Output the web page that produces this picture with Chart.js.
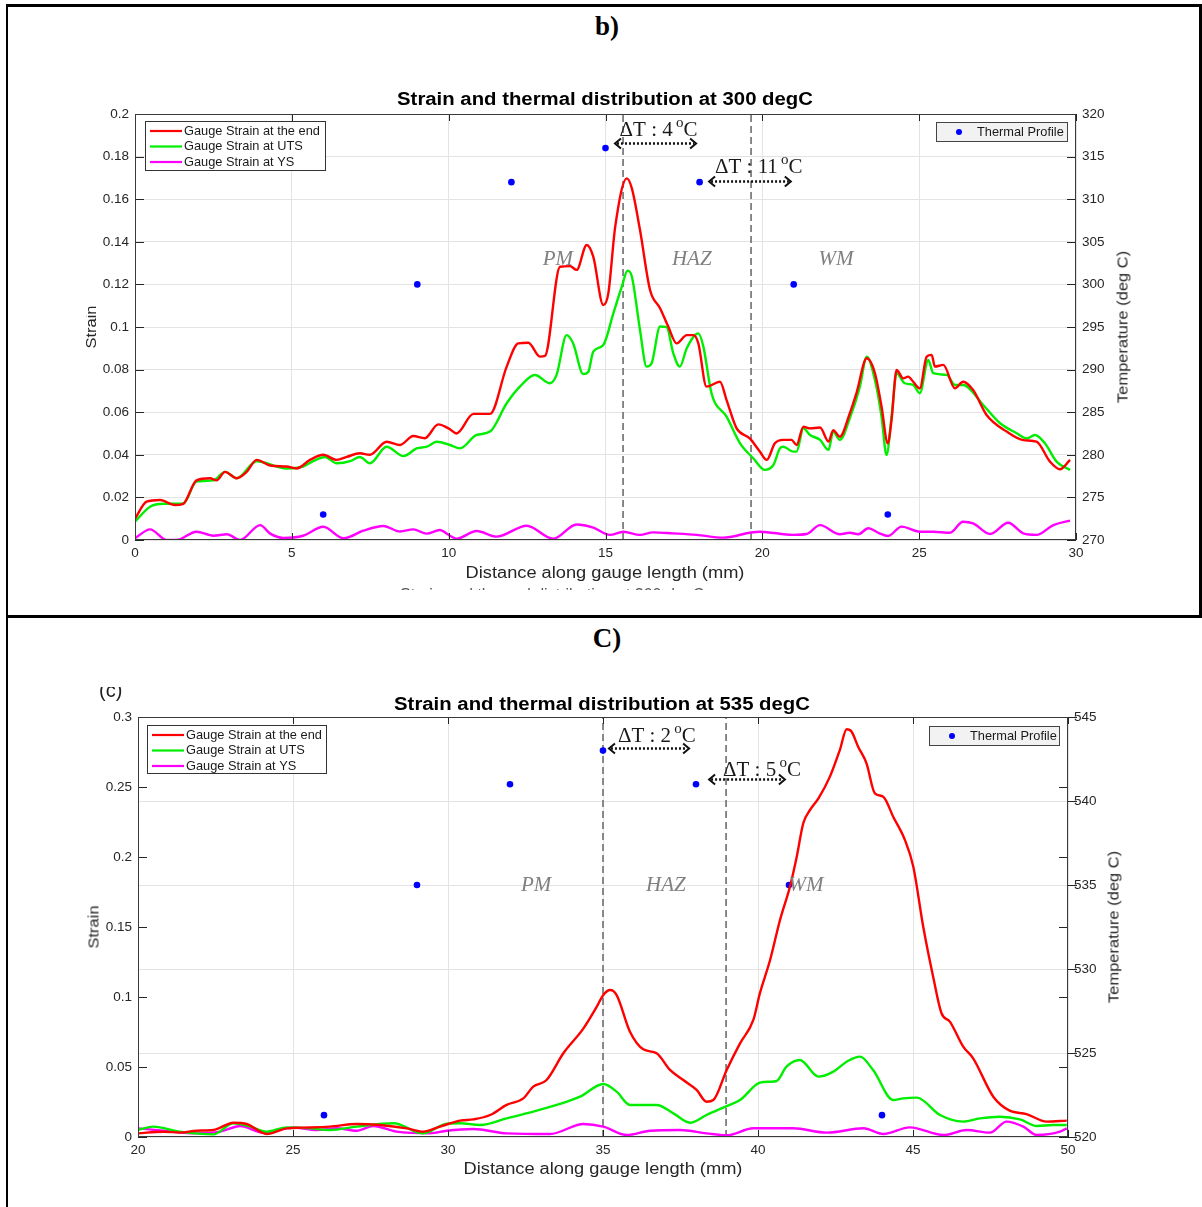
<!DOCTYPE html>
<html>
<head>
<meta charset="utf-8">
<script src="https://cdn.jsdelivr.net/npm/chart.js@4.4.1/dist/chart.umd.min.js"></script>
<style>
  body { margin: 0; background: #fff; }
  #page { position: relative; width: 1202px; height: 1207px; overflow: hidden; font-family: "Liberation Sans", Arial, sans-serif; }
  .rule { position: absolute; background: #000; }
  .panel { position: absolute; left: 0; width: 1202px; }
  .panel canvas { position: absolute; left: 0; top: 0; }
  .txt { position: absolute; white-space: nowrap; line-height: 1; color: #1a1a1a; }
  .ctr { transform: translate(-50%, -50%); }
  .tag { font-family: "Liberation Serif", "Times New Roman", serif; font-weight: bold; font-size: 27px; color: #000; }
  .ttl { font-weight: bold; font-size: 18px; color: #000; transform: translate(-50%, -50%) scaleX(1.13); }
  .axl { font-size: 16px; color: #262626; transform: translate(-50%, -50%) scaleX(1.14); }
  .rot { font-size: 15px; color: #262626; transform: translate(-50%, -50%) rotate(-90deg) scaleX(1.1); }
  .clip { position: absolute; overflow: hidden; }
</style>
</head>
<body>
<div id="page">
  <div class="rule" style="left:6px; top:4px; width:1196px; height:3px"></div>
  <div class="rule" style="left:6px; top:4px; width:2px; height:1203px"></div>
  <div class="rule" style="left:1199px; top:4px; width:3px; height:614px"></div>
  <div class="rule" style="left:6px; top:615px; width:1196px; height:3px"></div>

  <div class="txt tag ctr" style="left:607px; top:26px">b)</div>
  <div class="txt tag ctr" style="left:607px; top:638px">C)</div>

  <div class="panel" style="top:0; height:617px">
    <canvas id="c300" width="1202" height="617"></canvas>
  </div>
  <div class="panel" style="top:617px; height:590px">
    <canvas id="c535" width="1202" height="590"></canvas>
  </div>

  <div class="txt ttl" style="left:605px; top:99px">Strain and thermal distribution at 300 degC</div>
  <div class="clip" style="left:86px; top:290px; width:30px; height:80px">
    <div class="txt rot" style="left:4px; top:37px">Strain</div>
  </div>
  <div class="txt rot" style="left:1122px; top:327px">Temperature (deg C)</div>
  <div class="txt axl" style="left:605px; top:573px">Distance along gauge length (mm)</div>
  <div class="clip" style="left:380px; top:586px; width:460px; height:4px">
    <div class="txt" style="left:20px; top:1px; font-size:16px; color:#555">Strain and thermal distribution at 300 degC</div>
  </div>

  <div class="clip" style="left:96px; top:687px; width:40px; height:14px">
    <div class="txt" style="left:3px; top:-7px; font-size:20px; color:#222">(c)</div>
  </div>
  <div class="txt ttl" style="left:602px; top:704px">Strain and thermal distribution at 535 degC</div>
  <div class="txt rot" style="left:93px; top:927px">Strain</div>
  <div class="txt rot" style="left:1113px; top:927px">Temperature (deg C)</div>
  <div class="txt axl" style="left:603px; top:1169px">Distance along gauge length (mm)</div>
</div>

<script>
// ---- 300 degC : strain along the gauge (distance mm, strain)
const endStrain300 = [[0,0.010],[0.37,0.018],[0.8,0.0188],[1.27,0.0164],[1.54,0.017],[1.96,0.028],[2.39,0.029],[2.6,0.028],[2.87,0.032],[3.24,0.029],[3.56,0.032],[3.88,0.0376],[4.31,0.035],[4.83,0.0345],[5.15,0.0336],[5.58,0.0376],[6.0,0.040],[6.43,0.0376],[6.75,0.039],[7.17,0.0407],[7.49,0.040],[8.02,0.0461],[8.45,0.0446],[8.87,0.0488],[9.24,0.0478],[9.67,0.0543],[10.04,0.052],[10.25,0.050],[10.79,0.0592],[11.32,0.0592],[11.85,0.0814],[12.22,0.0923],[12.54,0.0926],[12.91,0.0861],[13.07,0.0864],[13.55,0.1283],[13.87,0.1286],[14.08,0.1268],[14.4,0.1385],[14.61,0.133],[14.93,0.1103],[15.09,0.1158],[15.31,0.1471],[15.68,0.1698],[15.84,0.1651],[16.1,0.1455],[16.42,0.1174],[16.74,0.1088],[17.0,0.1002],[17.27,0.0923],[17.59,0.0962],[17.8,0.0962],[17.96,0.0923],[18.22,0.072],[18.65,0.0743],[18.86,0.0657],[19.18,0.0524],[19.6,0.0477],[19.92,0.0415],[20.14,0.0376],[20.4,0.0454],[20.67,0.047],[20.93,0.047],[21.09,0.0446],[21.31,0.0532],[21.52,0.0524],[21.84,0.0528],[22.11,0.0462],[22.26,0.0516],[22.47,0.0485],[22.79,0.0595],[23.0,0.0689],[23.33,0.0853],[23.59,0.0783],[23.8,0.0627],[24.0,0.0454],[24.12,0.0564],[24.28,0.0798],[24.49,0.0759],[24.65,0.0767],[24.81,0.0743],[25.02,0.0712],[25.24,0.0861],[25.4,0.0869],[25.5,0.0814],[25.77,0.0822],[26.14,0.0712],[26.4,0.0743],[26.72,0.0704],[27.15,0.0587],[27.79,0.0509],[28.32,0.0469],[28.74,0.0462],[29.17,0.0368],[29.49,0.0332],[29.81,0.0376]];
const utsStrain300 = [[0,0.0086],[0.48,0.0156],[0.9,0.017],[1.54,0.0172],[1.96,0.0274],[2.5,0.028],[2.87,0.032],[3.24,0.029],[3.88,0.037],[4.83,0.0336],[5.36,0.0345],[5.68,0.037],[6.06,0.039],[6.43,0.036],[6.86,0.037],[7.17,0.039],[7.49,0.036],[8.02,0.0438],[8.56,0.0394],[8.98,0.043],[9.3,0.0438],[9.62,0.0461],[10.04,0.0446],[10.36,0.043],[10.89,0.0493],[11.32,0.0509],[11.85,0.0642],[12.27,0.072],[12.75,0.0775],[13.23,0.0736],[13.44,0.0775],[13.76,0.0962],[13.97,0.0923],[14.29,0.0779],[14.45,0.0789],[14.61,0.0884],[14.93,0.0915],[15.25,0.1064],[15.52,0.1189],[15.7,0.1264],[15.84,0.1237],[16.1,0.0986],[16.31,0.0814],[16.47,0.083],[16.74,0.1002],[16.95,0.0999],[17.16,0.0877],[17.37,0.0814],[17.59,0.09],[17.96,0.097],[18.12,0.0908],[18.38,0.0689],[18.86,0.0579],[19.29,0.0454],[19.71,0.0384],[20.08,0.0329],[20.35,0.0352],[20.56,0.043],[20.67,0.0438],[20.98,0.0415],[21.09,0.0415],[21.31,0.0524],[21.52,0.0493],[21.84,0.047],[22.11,0.0423],[22.26,0.0509],[22.47,0.047],[22.79,0.0572],[23.11,0.072],[23.33,0.0861],[23.59,0.0751],[23.8,0.058],[23.96,0.0399],[24.12,0.058],[24.28,0.0783],[24.54,0.0736],[24.81,0.0728],[25.02,0.0689],[25.29,0.0845],[25.45,0.0783],[25.88,0.0775],[26.14,0.0728],[26.4,0.0728],[27.04,0.0634],[27.58,0.0548],[28.11,0.0501],[28.43,0.0477],[28.69,0.0493],[29.01,0.0454],[29.38,0.0368],[29.81,0.0329]];
const ysStrain300 = [[0,0.0008],[0.48,0.005],[1.01,0],[1.33,0],[1.96,0.0039],[2.5,0.002],[2.93,0.0027],[3.35,0],[3.99,0.007],[4.31,0.003],[4.73,0.001],[5.36,0.002],[6.0,0.0062],[6.65,0.0008],[7.28,0.0044],[7.92,0.0066],[8.45,0.004],[8.87,0.005],[9.3,0.003],[9.72,0.0047],[10.04,0.002],[10.25,0.0006],[10.89,0.0042],[11.53,0.0016],[12.49,0.0067],[13.33,0.0006],[14.08,0.0073],[14.61,0.0058],[15.14,0.0024],[15.57,0.0039],[16.1,0.0024],[16.52,0.0036],[17.16,0.0031],[17.9,0.0024],[18.76,0.0011],[19.6,0.0034],[19.92,0.0039],[20.98,0.0024],[21.41,0.0028],[21.84,0.007],[22.47,0.0027],[22.79,0.0034],[23.06,0.0027],[23.38,0.0055],[23.7,0.0034],[24.01,0.0019],[24.44,0.0063],[25.02,0.0039],[25.45,0.0039],[25.98,0.0034],[26.4,0.0086],[26.72,0.0078],[27.26,0.0028],[27.84,0.0081],[28.32,0.0031],[28.74,0.0024],[29.28,0.007],[29.81,0.0091]];
const thermX300 = [6, 9, 12, 15, 18, 21, 24];
const thermT300 = [273, 300, 312, 316, 312, 300, 273];
const zoneLines300 = [15.56, 19.64];

// ---- 535 degC
const endStrain535 = [[20.0,0.0026],[20.82,0.0038],[21.35,0.0031],[21.89,0.0045],[22.43,0.005],[23.08,0.0102],[23.51,0.0093],[24.15,0.0021],[24.8,0.0062],[25.33,0.0067],[26.19,0.0074],[27.05,0.0093],[27.81,0.0086],[28.67,0.0062],[29.2,0.0038],[29.74,0.0074],[30.39,0.0117],[30.82,0.0126],[31.36,0.0157],[31.89,0.0229],[32.43,0.0276],[32.75,0.036],[33.18,0.0407],[33.72,0.0598],[34.37,0.0776],[34.8,0.0931],[35.01,0.1014],[35.23,0.105],[35.44,0.1014],[35.87,0.0752],[36.3,0.0626],[36.73,0.0598],[37.16,0.0479],[37.59,0.0407],[38.02,0.0336],[38.34,0.0252],[38.56,0.0264],[38.99,0.0479],[39.42,0.0669],[39.85,0.0836],[40.06,0.1026],[40.39,0.1264],[40.71,0.155],[41.03,0.1788],[41.25,0.2002],[41.46,0.2241],[41.68,0.2336],[41.95,0.2419],[42.32,0.2574],[42.64,0.2764],[42.86,0.2912],[43.02,0.2895],[43.23,0.2788],[43.5,0.2669],[43.77,0.2455],[44.04,0.2431],[44.36,0.2288],[44.74,0.2121],[45.01,0.1931],[45.33,0.1502],[45.65,0.1145],[45.92,0.0884],[46.19,0.0824],[46.62,0.0645],[46.94,0.0562],[47.59,0.0288],[48.12,0.0188],[48.66,0.0164],[49.31,0.011],[49.96,0.0117]];
const utsStrain535 = [[20.0,0.005],[20.49,0.0074],[21.35,0.0038],[22.43,0.0019],[23.08,0.0098],[23.62,0.0074],[24.15,0.0038],[24.8,0.0069],[25.55,0.0062],[26.19,0.005],[27.05,0.0074],[28.24,0.0098],[29.2,0.0026],[29.96,0.0095],[30.39,0.0098],[31.03,0.0086],[31.89,0.0133],[32.75,0.0181],[33.51,0.0229],[34.26,0.0288],[35.01,0.0379],[35.44,0.0324],[35.87,0.0229],[36.73,0.0229],[37.27,0.0169],[37.81,0.0102],[38.34,0.0157],[38.99,0.0221],[39.42,0.0264],[40.06,0.0388],[40.39,0.0395],[40.6,0.04],[40.92,0.0502],[41.35,0.055],[41.95,0.0431],[42.43,0.0467],[42.86,0.0538],[43.29,0.0574],[43.72,0.0476],[44.36,0.0264],[44.69,0.0276],[45.12,0.0281],[45.87,0.0157],[46.62,0.011],[47.16,0.0133],[47.8,0.0145],[48.45,0.0126],[48.99,0.0079],[49.52,0.0086],[49.96,0.0086]];
const ysStrain535 = [[20.0,0.0062],[20.82,0.0045],[21.89,0.0026],[22.65,0.0038],[23.3,0.0079],[24.04,0.0031],[25.01,0.0067],[25.77,0.005],[26.41,0.0062],[27.05,0.0045],[27.59,0.0079],[28.34,0.0038],[29.42,0.0026],[29.96,0.0045],[30.82,0.0057],[31.89,0.0026],[33.29,0.0021],[34.37,0.0093],[35.01,0.0074],[35.77,0.0014],[36.52,0.0045],[37.48,0.005],[38.34,0.0026],[38.99,0.0012],[39.85,0.0062],[40.71,0.0062],[41.14,0.0062],[42.22,0.0031],[43.4,0.0062],[44.04,0.0021],[44.9,0.0069],[45.98,0.0014],[46.73,0.005],[47.48,0.0031],[48.02,0.011],[48.56,0.0074],[48.99,0.0014],[49.74,0.0038],[49.96,0.0062]];
const thermX535 = [26, 29, 32, 35, 38, 41, 44];
const thermT535 = [521.3, 535, 541, 543, 541, 535, 521.3];
const zoneLines535 = [35, 38.97];

const seriesNames = ['Gauge Strain at the end', 'Gauge Strain at UTS', 'Gauge Strain at YS'];
const seriesColors = ['#ff0000', '#00ee00', '#ff00ff'];
const zoneNames = ['PM', 'HAZ', 'WM'];

const SANS = '"Liberation Sans", Arial, sans-serif';
const SERIF = '"Liberation Serif", "Times New Roman", serif';

function toPts(pairs) { return pairs.map(p => ({ x: p[0], y: p[1] })); }

// inside ticks, box, legends, zone labels and delta-T arrows
const decor = {
  id: 'decor',
  afterDatasetsDraw(chart, args, o) {
    const { ctx, chartArea: a, scales } = chart;
    const sx = scales.x, sy = scales.y, st = scales.y2;
    ctx.save();
    ctx.strokeStyle = '#262626';
    ctx.lineWidth = 1;
    ctx.beginPath();
    sx.ticks.forEach(t => {
      const px = Math.round(sx.getPixelForValue(t.value)) + 0.5;
      ctx.moveTo(px, a.bottom); ctx.lineTo(px, a.bottom - 7);
      ctx.moveTo(px, a.top); ctx.lineTo(px, a.top + 7);
    });
    sy.ticks.forEach(t => {
      const py = Math.round(sy.getPixelForValue(t.value)) + 0.5;
      ctx.moveTo(a.left, py); ctx.lineTo(a.left + 9, py);
      if (o.mirrorLeft) { ctx.moveTo(a.right, py); ctx.lineTo(a.right - 9, py); }
    });
    st.ticks.forEach(t => {
      const py = Math.round(st.getPixelForValue(t.value)) + 0.5;
      if (o.outRight) { ctx.moveTo(a.right, py); ctx.lineTo(a.right + 9, py); }
      else { ctx.moveTo(a.right, py); ctx.lineTo(a.right - 9, py); }
    });
    ctx.stroke();
    ctx.strokeStyle = '#3a3a3a';
    ctx.strokeRect(a.left + 0.5, a.top + 0.5, a.right - a.left - 1, a.bottom - a.top - 1);

    // zone labels
    ctx.fillStyle = '#808080';
    ctx.font = 'italic 21px ' + SERIF;
    ctx.textAlign = 'center';
    ctx.textBaseline = 'middle';
    o.zones.forEach((zx, i) => {
      ctx.fillText(zoneNames[i], sx.getPixelForValue(zx), sy.getPixelForValue(o.zoneY));
    });

    // delta-T notes with dotted double arrows
    ctx.textAlign = 'left';
    ctx.textBaseline = 'alphabetic';
    o.deltas.forEach(d => {
      const tx = sx.getPixelForValue(d.tx), ty = sy.getPixelForValue(d.ty);
      ctx.fillStyle = '#1a1a1a';
      ctx.font = '21px ' + SERIF;
      const s = 'ΔT : ' + d.v + ' ';
      ctx.fillText(s, tx, ty);
      let w = ctx.measureText(s).width - 2;
      ctx.font = '15px ' + SERIF;
      ctx.fillText('o', tx + w, ty - 9);
      w += ctx.measureText('o').width;
      ctx.font = '21px ' + SERIF;
      ctx.fillText('C', tx + w, ty);

      const x1 = sx.getPixelForValue(d.x1), x2 = sx.getPixelForValue(d.x2), y = Math.round(sy.getPixelForValue(d.ay)) + 0.5;
      ctx.strokeStyle = '#111';
      ctx.lineWidth = 2.5;
      ctx.setLineDash([2, 2]);
      ctx.beginPath(); ctx.moveTo(x1 + 3, y); ctx.lineTo(x2 - 3, y); ctx.stroke();
      ctx.setLineDash([]);
      ctx.lineWidth = 2;
      ctx.beginPath();
      ctx.moveTo(x1 + 7, y - 5); ctx.lineTo(x1 + 1, y); ctx.lineTo(x1 + 7, y + 5);
      ctx.moveTo(x2 - 7, y - 5); ctx.lineTo(x2 - 1, y); ctx.lineTo(x2 - 7, y + 5);
      ctx.stroke();
    });

    // strain legend
    const L = o.legL;
    ctx.fillStyle = '#fff';
    ctx.fillRect(a.left + L.dx, a.top + L.dy, L.w, L.h);
    ctx.strokeStyle = '#333';
    ctx.lineWidth = 1;
    ctx.strokeRect(a.left + L.dx + 0.5, a.top + L.dy + 0.5, L.w, L.h);
    ctx.font = '12.8px ' + SANS;
    ctx.textBaseline = 'middle';
    seriesNames.forEach((n, i) => {
      const y = a.top + L.dy + 10 + i * 15.5;
      ctx.strokeStyle = seriesColors[i];
      ctx.lineWidth = 2.2;
      ctx.beginPath(); ctx.moveTo(a.left + L.dx + 5, y); ctx.lineTo(a.left + L.dx + 37, y); ctx.stroke();
      ctx.fillStyle = '#1a1a1a';
      ctx.fillText(n, a.left + L.dx + 39, y);
    });

    // thermal legend
    const R = o.legR;
    const rx = a.right - R.dx;
    ctx.fillStyle = '#f2f2f2';
    ctx.fillRect(rx, a.top + R.dy, R.w, 19);
    ctx.strokeStyle = '#444';
    ctx.lineWidth = 1;
    ctx.strokeRect(rx + 0.5, a.top + R.dy + 0.5, R.w, 19);
    ctx.fillStyle = '#0000ff';
    ctx.beginPath(); ctx.arc(rx + 23, a.top + R.dy + 10, 3, 0, Math.PI * 2); ctx.fill();
    ctx.fillStyle = '#1a1a1a';
    ctx.fillText('Thermal Profile', rx + 41, a.top + R.dy + 10);
    ctx.restore();
  }
};

function makeChart(id, cfg) {
  const lineSet = (pairs, i) => ({
    data: toPts(pairs), yAxisID: 'y', borderColor: seriesColors[i], borderWidth: 2.4,
    pointRadius: 0, cubicInterpolationMode: 'monotone', fill: false
  });
  const datasets = [
    lineSet(cfg.end, 0), lineSet(cfg.uts, 1), lineSet(cfg.ys, 2),
    {
      data: cfg.thermX.map((x, i) => ({ x: x, y: cfg.thermT[i] })), yAxisID: 'y2', showLine: false,
      pointRadius: 3.3, pointBackgroundColor: '#0000ff', pointBorderWidth: 0
    }
  ];
  cfg.zoneLines.forEach(zx => datasets.push({
    data: [{ x: zx, y: cfg.yMin }, { x: zx, y: cfg.yMax }], yAxisID: 'y', borderColor: '#6e6e6e',
    borderWidth: 1.6, borderDash: [7, 4], pointRadius: 0
  }));
  const tickFont = { family: SANS, size: 13.5 };
  return new Chart(document.getElementById(id), {
    type: 'line',
    data: { datasets },
    options: {
      responsive: false,
      animation: false,
      layout: { padding: { top: cfg.top, left: 0, right: 0, bottom: 0 } },
      plugins: { legend: { display: false }, tooltip: { enabled: false }, decor: cfg.decor },
      scales: {
        x: {
          type: 'linear', min: cfg.xMin, max: cfg.xMax,
          ticks: { stepSize: 5, font: tickFont, color: '#262626', padding: 5, maxRotation: 0 },
          grid: { color: '#e3e3e3', drawTicks: false },
          border: { display: false },
          afterFit: s => { s.height = cfg.xH; }
        },
        y: {
          position: 'left', min: cfg.yMin, max: cfg.yMax,
          ticks: { stepSize: cfg.yStep, font: tickFont, color: '#262626', padding: 6, callback: v => String(+v.toFixed(2)) },
          grid: { display: cfg.leftGrid, color: '#e3e3e3', drawTicks: false },
          border: { display: false },
          afterFit: s => { s.width = cfg.yW; }
        },
        y2: {
          position: 'right', min: cfg.tMin, max: cfg.tMax,
          ticks: { stepSize: 5, font: tickFont, color: '#262626', padding: 6 },
          grid: { display: !cfg.leftGrid, color: '#e3e3e3', drawTicks: false },
          border: { display: false },
          afterFit: s => { s.width = cfg.y2W; }
        }
      }
    },
    plugins: [decor]
  });
}

makeChart('c300', {
  end: endStrain300, uts: utsStrain300, ys: ysStrain300,
  thermX: thermX300, thermT: thermT300, zoneLines: zoneLines300,
  xMin: 0, xMax: 30, yMin: 0, yMax: 0.2, yStep: 0.02, tMin: 270, tMax: 320,
  top: 114, xH: 77, yW: 135, y2W: 126, leftGrid: true,
  decor: {
    zones: [13.48, 17.75, 22.35], zoneY: 0.1315,
    deltas: [
      { v: 4, tx: 15.45, ty: 0.1897, x1: 15.27, x2: 17.92, ay: 0.1864 },
      { v: 11, tx: 18.49, ty: 0.1723, x1: 18.27, x2: 20.94, ay: 0.1685 }
    ],
    legL: { dx: 10, dy: 7, w: 180, h: 49 },
    legR: { dx: 140, dy: 8, w: 131 }
  }
});

makeChart('c535', {
  end: endStrain535, uts: utsStrain535, ys: ysStrain535,
  thermX: thermX535, thermT: thermT535, zoneLines: zoneLines535,
  xMin: 20, xMax: 50, yMin: 0, yMax: 0.3, yStep: 0.05, tMin: 520, tMax: 545,
  top: 100, xH: 70, yW: 138, y2W: 134, leftGrid: false,
  decor: {
    mirrorLeft: true, outRight: true,
    zones: [32.84, 37.03, 41.55], zoneY: 0.18,
    deltas: [
      { v: 2, tx: 35.48, ty: 0.2821, x1: 35.16, x2: 37.81, ay: 0.2779 },
      { v: 5, tx: 38.87, ty: 0.2579, x1: 38.39, x2: 40.9, ay: 0.2557 }
    ],
    legL: { dx: 9, dy: 8, w: 179, h: 48 },
    legR: { dx: 139, dy: 9, w: 130 }
  }
});
</script>
</body>
</html>
